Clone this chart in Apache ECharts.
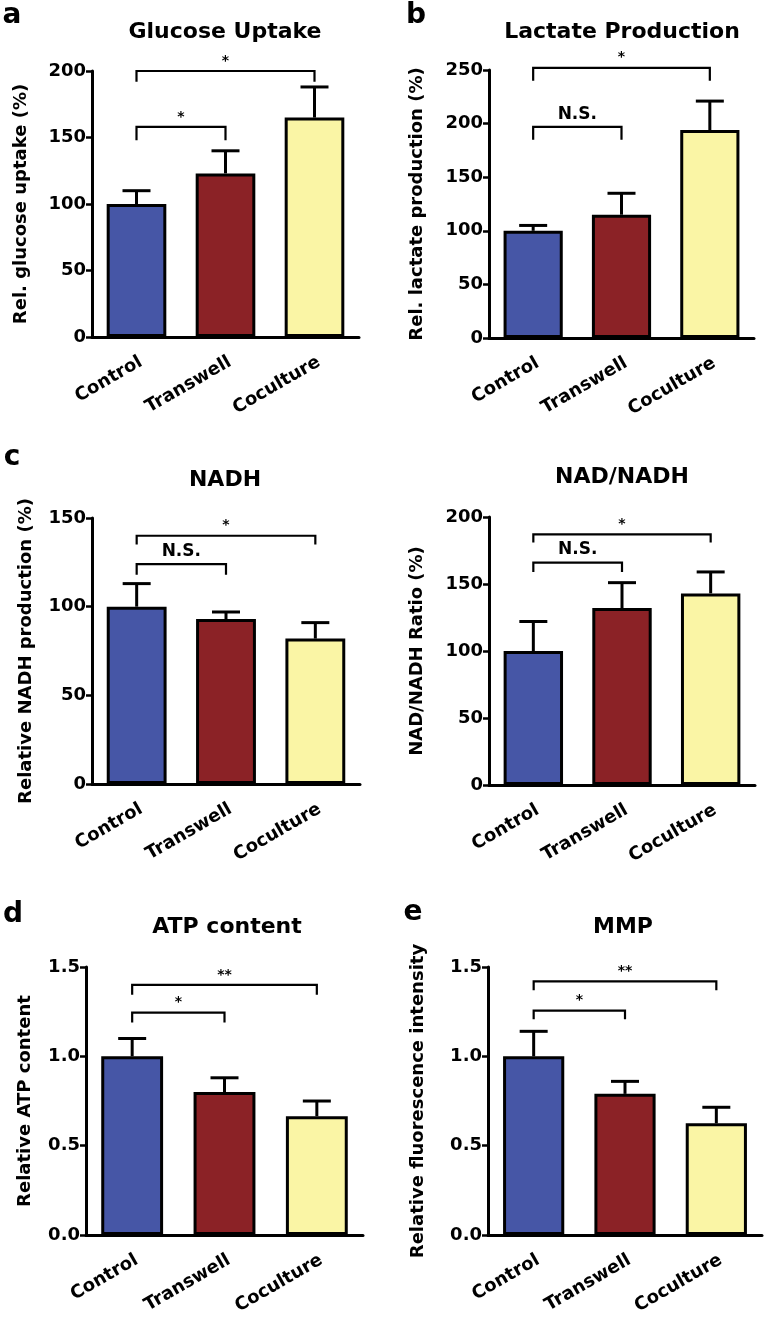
<!DOCTYPE html>
<html lang="en">
<head>
    <meta charset="UTF-8">
    <title>Metabolism panels</title>
    <script src="https://cdn.jsdelivr.net/npm/echarts@6/dist/echarts.min.js"></script>
    <style>
        html, body { margin: 0; padding: 0; background: #fff; }
    </style>
</head>
<body>
    <div id="main" style="width: 764px;height:1317px;"></div>
    <script type="text/javascript">
        // groups on the x axis
        const categories = ['Control', 'Transwell', 'Coculture'];
        const barColors = ['#4656a6', '#8b2226', '#faf5a5'];

        // means and upper error (SD) for each panel
        const glucoseMean = [100, 123, 165];
        const glucoseErr = [10, 17, 23];
        const lactateMean = [100, 115, 194];
        const lactateErr = [5, 20, 27];
        const nadhMean = [100, 93, 82];
        const nadhErr = [13, 4, 9];
        const ratioMean = [100, 132, 143];
        const ratioErr = [22, 19, 16];
        const atpMean = [1.0, 0.80, 0.665];
        const atpErr = [0.10, 0.08, 0.085];
        const mmpMean = [1.0, 0.79, 0.625];
        const mmpErr = [0.14, 0.07, 0.09];

        // significance brackets: [from, to, bracket level, leg end level]
        const glucoseSig = [[0, 1, 158, 148], [0, 2, 200, 192]];
        const glucoseSigText = ['*', '*'];
        const lactateSig = [[0, 1, 197, 185], [0, 2, 252, 240]];
        const lactateSigText = ['N.S.', '*'];
        const nadhSig = [[0, 1, 124, 118], [0, 2, 140, 135]];
        const nadhSigText = ['N.S.', '*'];
        const ratioSig = [[0, 1, 166, 159], [0, 2, 187, 181]];
        const ratioSigText = ['N.S.', '*'];
        const atpSig = [[0, 1, 1.245, 1.19], [0, 2, 1.40, 1.345]];
        const atpSigText = ['*', '**'];
        const mmpSig = [[0, 1, 1.256, 1.207], [0, 2, 1.42, 1.37]];
        const mmpSigText = ['*', '**'];

        // y axis ticks
        const glucoseTicks = { max: 200, interval: 50 };
        const lactateTicks = { max: 250, interval: 50 };
        const nadhTicks = { max: 150, interval: 50 };
        const ratioTicks = { max: 200, interval: 50 };
        const atpTicks = { max: 1.5, interval: 0.5 };
        const mmpTicks = { max: 1.5, interval: 0.5 };

        const FONT = 'DejaVu Sans';

        const panels = [
            { title: 'Glucose Uptake', yName: 'Rel. glucose uptake (%)', mean: glucoseMean, err: glucoseErr, sig: glucoseSig, sigText: glucoseSigText, ticks: glucoseTicks, dec: 0,
              grid: { left: 92, top: 71, width: 267, height: 266 }, nameGap: 62, titlePos: [225, 32] },
            { title: 'Lactate Production', yName: 'Rel. lactate production (%)', mean: lactateMean, err: lactateErr, sig: lactateSig, sigText: lactateSigText, ticks: lactateTicks, dec: 0,
              grid: { left: 489, top: 70, width: 265, height: 268 }, nameGap: 63, titlePos: [622, 32] },
            { title: 'NADH', yName: 'Relative NADH production (%)', mean: nadhMean, err: nadhErr, sig: nadhSig, sigText: nadhSigText, ticks: nadhTicks, dec: 0,
              grid: { left: 92, top: 518, width: 268, height: 266 }, nameGap: 57, titlePos: [225, 480] },
            { title: 'NAD/NADH', yName: 'NAD/NADH Ratio (%)', mean: ratioMean, err: ratioErr, sig: ratioSig, sigText: ratioSigText, ticks: ratioTicks, dec: 0,
              grid: { left: 489, top: 517, width: 266, height: 268 }, nameGap: 63, titlePos: [622, 477] },
            { title: 'ATP content', yName: 'Relative ATP content', mean: atpMean, err: atpErr, sig: atpSig, sigText: atpSigText, ticks: atpTicks, dec: 1,
              grid: { left: 86, top: 967, width: 277, height: 271 }, nameGap: 52, titlePos: [227, 927] },
            { title: 'MMP', yName: 'Relative fluorescence intensity', mean: mmpMean, err: mmpErr, sig: mmpSig, sigText: mmpSigText, ticks: mmpTicks, dec: 1,
              grid: { left: 488, top: 967, width: 274, height: 271 }, nameGap: 61, titlePos: [623, 927] }
        ];

        const letters = [['a', 12, 16], ['b', 416, 16], ['c', 12, 458], ['d', 13, 915], ['e', 413, 913]];

        const option = {
            animation: false,
            backgroundColor: '#fff',
            grid: [], xAxis: [], yAxis: [], series: [], graphic: []
        };

        panels.forEach((p, i) => {
            option.grid.push(p.grid);
            option.xAxis.push({
                type: 'category', gridIndex: i, data: categories,
                axisLine: { lineStyle: { color: '#000', width: 3 } },
                axisTick: { alignWithLabel: true, length: 7, lineStyle: { color: '#000', width: 2.5 } },
                axisLabel: { rotate: 30, color: '#000', fontFamily: FONT, fontWeight: 'bold', fontSize: 18, margin: 16,
                    verticalAlign: 'top' },
                splitLine: { show: false }
            });
            option.yAxis.push({
                type: 'value', gridIndex: i, min: 0, max: p.ticks.max, interval: p.ticks.interval,
                name: p.yName, nameLocation: 'middle', nameGap: p.nameGap, nameRotate: 90,
                nameTextStyle: { color: '#000', fontFamily: FONT, fontWeight: 'bold', fontSize: 18 },
                axisLine: { show: true, lineStyle: { color: '#000', width: 3 } },
                axisTick: { show: true, length: 6, lineStyle: { color: '#000', width: 2.5 } },
                axisLabel: { color: '#000', fontFamily: FONT, fontWeight: 'bold', fontSize: 18, margin: 6,
                    formatter: v => v.toFixed(p.dec) },
                splitLine: { show: false }
            });
            option.series.push({
                type: 'bar', xAxisIndex: i, yAxisIndex: i, barWidth: '67%',
                data: p.mean.map((v, k) => ({ value: v, itemStyle: { color: barColors[k] } })),
                itemStyle: { borderColor: '#000', borderWidth: 3 },
                z: 2
            });
            // error bars (upper only)
            option.series.push({
                type: 'custom', xAxisIndex: i, yAxisIndex: i, z: 3,
                encode: { x: 0, y: 1 },
                data: p.mean.map((v, k) => [k, v, p.err[k]]),
                renderItem: (params, api) => {
                    const base = api.coord([api.value(0), api.value(1)]);
                    const top = api.coord([api.value(0), api.value(1) + api.value(2)]);
                    const half = 14;
                    const st = { stroke: '#000', lineWidth: 3, fill: null };
                    return {
                        type: 'group', children: [
                            { type: 'line', shape: { x1: base[0], y1: base[1], x2: top[0], y2: top[1] }, style: st },
                            { type: 'line', shape: { x1: top[0] - half, y1: top[1], x2: top[0] + half, y2: top[1] }, style: st }
                        ]
                    };
                }
            });
            // significance brackets
            option.series.push({
                type: 'custom', xAxisIndex: i, yAxisIndex: i, z: 4, clip: false,
                encode: { x: 0, y: 2 },
                data: p.sig,
                renderItem: (params, api) => {
                    const a = api.coord([api.value(0), api.value(2)]);
                    const b = api.coord([api.value(1), api.value(2)]);
                    const legY = api.coord([api.value(0), api.value(3)])[1];
                    const txt = p.sigText[params.dataIndex];
                    return {
                        type: 'group', children: [
                            { type: 'polyline', shape: { points: [[a[0], legY], [a[0], a[1]], [b[0], b[1]], [b[0], legY]] },
                              style: { stroke: '#000', lineWidth: 2.2, fill: null } },
                            { type: 'text', x: (a[0] + b[0]) / 2, y: a[1] - (txt === 'N.S.' ? 4 : 3),
                              style: { text: txt, fill: '#000', font: 'bold ' + (txt === 'N.S.' ? 17 : 14) + 'px ' + FONT,
                                       align: 'center', verticalAlign: 'bottom' } }
                        ]
                    };
                }
            });
            option.graphic.push({
                type: 'text', x: p.titlePos[0], y: p.titlePos[1],
                style: { text: p.title, fill: '#000', font: 'bold 22px ' + FONT, align: 'center', verticalAlign: 'middle' }
            });
        });

        letters.forEach(l => {
            option.graphic.push({
                type: 'text', x: l[1], y: l[2],
                style: { text: l[0], fill: '#000', font: 'bold 28px ' + FONT, align: 'center', verticalAlign: 'middle' }
            });
        });

        let myChart = echarts.init(document.getElementById('main'));
        myChart.setOption(option);
    </script>
</body>
</html>
